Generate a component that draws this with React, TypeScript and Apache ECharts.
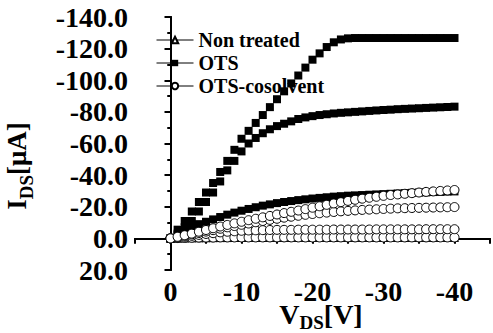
import React, { useEffect, useRef } from "react";
import * as echarts from "echarts";

const VDS = [0, -1, -2, -3, -4, -5, -6, -7, -8, -9, -10, -11, -12, -13, -14, -15, -16, -17, -18, -19, -20, -21, -22, -23, -24, -25, -26, -27, -28, -29, -30, -31, -32, -33, -34, -35, -36, -37, -38, -39, -40];

const X_TICKS = [0, -10, -20, -30, -40];

const NON_TREATED_1 = [0, -0.1, -0.2, -0.3, -0.35, -0.4, -0.45, -0.5, -0.5, -0.55, -0.55, -0.6, -0.6, -0.6, -0.6, -0.6, -0.6, -0.6, -0.6, -0.6, -0.6, -0.6, -0.6, -0.6, -0.6, -0.6, -0.6, -0.6, -0.6, -0.6, -0.6, -0.6, -0.6, -0.6, -0.6, -0.6, -0.6, -0.6, -0.6, -0.6, -0.6];

const OTS_1 = [0, -5.5, -11, -17, -23, -29, -35, -42, -49, -56, -63, -68, -73, -78, -83, -88, -93, -98, -103, -108, -113, -117, -121, -124, -125.8, -126.5, -126.7, -126.7, -126.7, -126.7, -126.7, -126.7, -126.7, -126.7, -126.7, -126.7, -126.7, -126.7, -126.7, -126.7, -126.7];
const OTS_2 = [0, -3, -7, -11, -17, -23, -29, -36, -43, -49, -55, -60, -63.5, -66.5, -69, -71, -72.5, -74, -75.5, -76.5, -77.3, -78, -78.5, -79, -79.4, -79.7, -80, -80.3, -80.6, -80.9, -81.2, -81.4, -81.7, -81.9, -82.1, -82.3, -82.5, -82.7, -82.9, -83.1, -83.3];
const OTS_3 = [0, -2, -4.5, -7, -9, -10.5, -12, -13.5, -15, -16.3, -17.5, -18.6, -19.7, -20.7, -21.5, -22.3, -23, -23.6, -24.2, -24.7, -25.2, -25.6, -26, -26.4, -26.7, -27, -27.2, -27.4, -27.6, -27.8, -28, -28.2, -28.4, -28.6, -28.8, -29, -29.1, -29.3, -29.4, -29.6, -29.7];

const COS_1 = [0, -1, -2, -3, -4.2, -5.3, -6.4, -7.5, -8.5, -9.5, -10.5, -11.5, -12.4, -13.3, -14.2, -15.1, -16, -16.8, -17.6, -18.5, -19.4, -20.3, -21.2, -22.1, -22.9, -23.7, -24.4, -25.1, -25.7, -26.3, -26.9, -27.4, -27.8, -28.2, -28.6, -29, -29.4, -29.7, -30, -30.3, -30.6];
const COS_2 = [0, -0.8, -1.6, -2.5, -3.4, -4.3, -5.2, -6.1, -7, -7.8, -8.6, -9.4, -10.2, -11, -11.7, -12.4, -13.1, -13.7, -14.3, -14.9, -15.4, -15.9, -16.3, -16.7, -17.1, -17.4, -17.7, -18, -18.2, -18.4, -18.6, -18.8, -19, -19.1, -19.2, -19.3, -19.4, -19.5, -19.6, -19.7, -19.8];
const COS_3 = [0, -0.5, -1, -1.6, -2.2, -2.8, -3.3, -3.8, -4.2, -4.5, -4.8, -5, -5.1, -5.2, -5.3, -5.4, -5.4, -5.4, -5.5, -5.5, -5.5, -5.5, -5.5, -5.6, -5.6, -5.6, -5.6, -5.6, -5.6, -5.7, -5.7, -5.7, -5.7, -5.7, -5.7, -5.7, -5.8, -5.8, -5.8, -5.8, -5.8];
const COS_4 = [0, -0.2, -0.3, -0.4, -0.5, -0.5, -0.5, -0.6, -0.6, -0.6, -0.6, -0.6, -0.6, -0.6, -0.6, -0.6, -0.6, -0.6, -0.6, -0.6, -0.6, -0.6, -0.6, -0.6, -0.6, -0.6, -0.6, -0.6, -0.6, -0.6, -0.6, -0.6, -0.6, -0.6, -0.6, -0.6, -0.6, -0.6, -0.6, -0.6, -0.6];

const FONT = "Liberation Serif";

const pairs = (arr: number[]) => VDS.map((v, i) => [v, arr[i]]);

export default function App() {
  const ref = useRef<HTMLDivElement>(null);
  useEffect(() => {
    if (!ref.current) return;
    const chart = echarts.init(ref.current, null, { renderer: "svg" });

    const mk = (name: string, arr: number[], kind: string) => {
      const base: any = {
        type: "line",
        name,
        data: pairs(arr),
        xAxisIndex: 0,
        yAxisIndex: 0,
        lineStyle: { color: "#000", width: 1, opacity: 0 },
        showSymbol: true,
        z: 2,
      };
      if (kind === "square") {
        base.symbol = "rect";
        base.symbolSize = 8;
        base.itemStyle = { color: "#000", borderColor: "#000", borderWidth: 0 };
      } else if (kind === "circle") {
        base.symbol = "circle";
        base.symbolSize = 9;
        base.itemStyle = { color: "#fff", borderColor: "#000", borderWidth: 1 };
      } else {
        base.symbol = "triangle";
        base.symbolSize = 8;
        base.itemStyle = { color: "#fff", borderColor: "#000", borderWidth: 1 };
      }
      return base;
    };

    const axisLine = { show: true, lineStyle: { color: "#000", width: 2 } };

    chart.setOption({
      animation: false,
      backgroundColor: "#fff",
      grid: { left: 135, right: 1, top: 17, bottom: 63, containLabel: false },
      legend: {
        data: ["Non treated", "OTS", "OTS-cosolvent"],
        orient: "vertical",
        left: 156,
        top: 30,
        padding: 0,
        itemWidth: 37,
        itemHeight: 8,
        itemGap: 3,
        lineStyle: { color: "#000", width: 1, opacity: 1 },
        textStyle: { fontFamily: FONT, fontWeight: "bold", fontSize: 20, color: "#000" },
      },
      xAxis: [
        {
          type: "value",
          position: "bottom",
          min: -45,
          max: 5,
          interval: 5,
          inverse: true,
          axisLine,
          axisTick: { show: true, length: 5, lineStyle: { color: "#000", width: 2 } },
          axisLabel: {
            margin: 7,
            fontFamily: FONT,
            fontWeight: "bold",
            fontSize: 28,
            color: "#000",
            formatter: (v: number) => (X_TICKS.indexOf(v) >= 0 ? String(v) : ""),
          },
          splitLine: { show: false },
        },
        {
          type: "value",
          position: "top",
          min: -45,
          max: 5,
          interval: 5,
          inverse: true,
          axisLine,
          axisTick: { show: true, inside: true, length: 5, lineStyle: { color: "#000", width: 2 } },
          axisLabel: { show: false },
          splitLine: { show: false },
        },
      ],
      yAxis: [
        {
          type: "value",
          position: "left",
          min: -140,
          max: 20,
          interval: 20,
          inverse: true,
          axisLine,
          axisTick: { show: true, length: 6, lineStyle: { color: "#000", width: 2 } },
          minorTick: { show: true, splitNumber: 2, length: 3, lineStyle: { color: "#000", width: 2 } },
          axisLabel: {
            margin: 7,
            fontFamily: FONT,
            fontWeight: "bold",
            fontSize: 28,
            color: "#000",
            formatter: (v: number) => v.toFixed(1),
          },
          splitLine: { show: false },
          minorSplitLine: { show: false },
        },
        {
          type: "value",
          position: "right",
          min: -140,
          max: 20,
          interval: 20,
          inverse: true,
          axisLine,
          axisTick: { show: true, inside: true, length: 5, lineStyle: { color: "#000", width: 2 } },
          minorTick: { show: true, splitNumber: 2, length: 3, lineStyle: { color: "#000", width: 2 } },
          axisLabel: { show: false },
          splitLine: { show: false },
          minorSplitLine: { show: false },
        },
      ],
      series: [
        mk("Non treated", NON_TREATED_1, "triangle"),
        mk("OTS", OTS_1, "square"),
        mk("OTS", OTS_2, "square"),
        mk("OTS", OTS_3, "square"),
        mk("OTS-cosolvent", COS_4, "circle"),
        mk("OTS-cosolvent", COS_3, "circle"),
        mk("OTS-cosolvent", COS_2, "circle"),
        mk("OTS-cosolvent", COS_1, "circle"),
      ],
      graphic: [
        {
          type: "text",
          x: 321,
          y: 314,
          style: {
            text: "V{sub|DS}[V]",
            fontFamily: FONT,
            fontWeight: "bold",
            fontSize: 28,
            lineHeight: 36,
            fill: "#000",
            align: "center",
            verticalAlign: "middle",
            rich: {
              sub: { fontFamily: FONT, fontWeight: "bold", fontSize: 19, lineHeight: 19, verticalAlign: "bottom" },
            },
          },
        },
        {
          type: "text",
          x: 17,
          y: 166,
          rotation: Math.PI / 2,
          style: {
            text: "I{sub|DS}[μA]",
            fontFamily: FONT,
            fontWeight: "bold",
            fontSize: 27,
            lineHeight: 38,
            fill: "#000",
            align: "center",
            verticalAlign: "middle",
            rich: {
              sub: { fontFamily: FONT, fontWeight: "bold", fontSize: 19, lineHeight: 19, verticalAlign: "bottom" },
            },
          },
        },
      ],
    });
    return () => chart.dispose();
  }, []);
  return <div ref={ref} style={{ width: 493, height: 333, position: "fixed", left: 0, top: 0 }} />;
}
